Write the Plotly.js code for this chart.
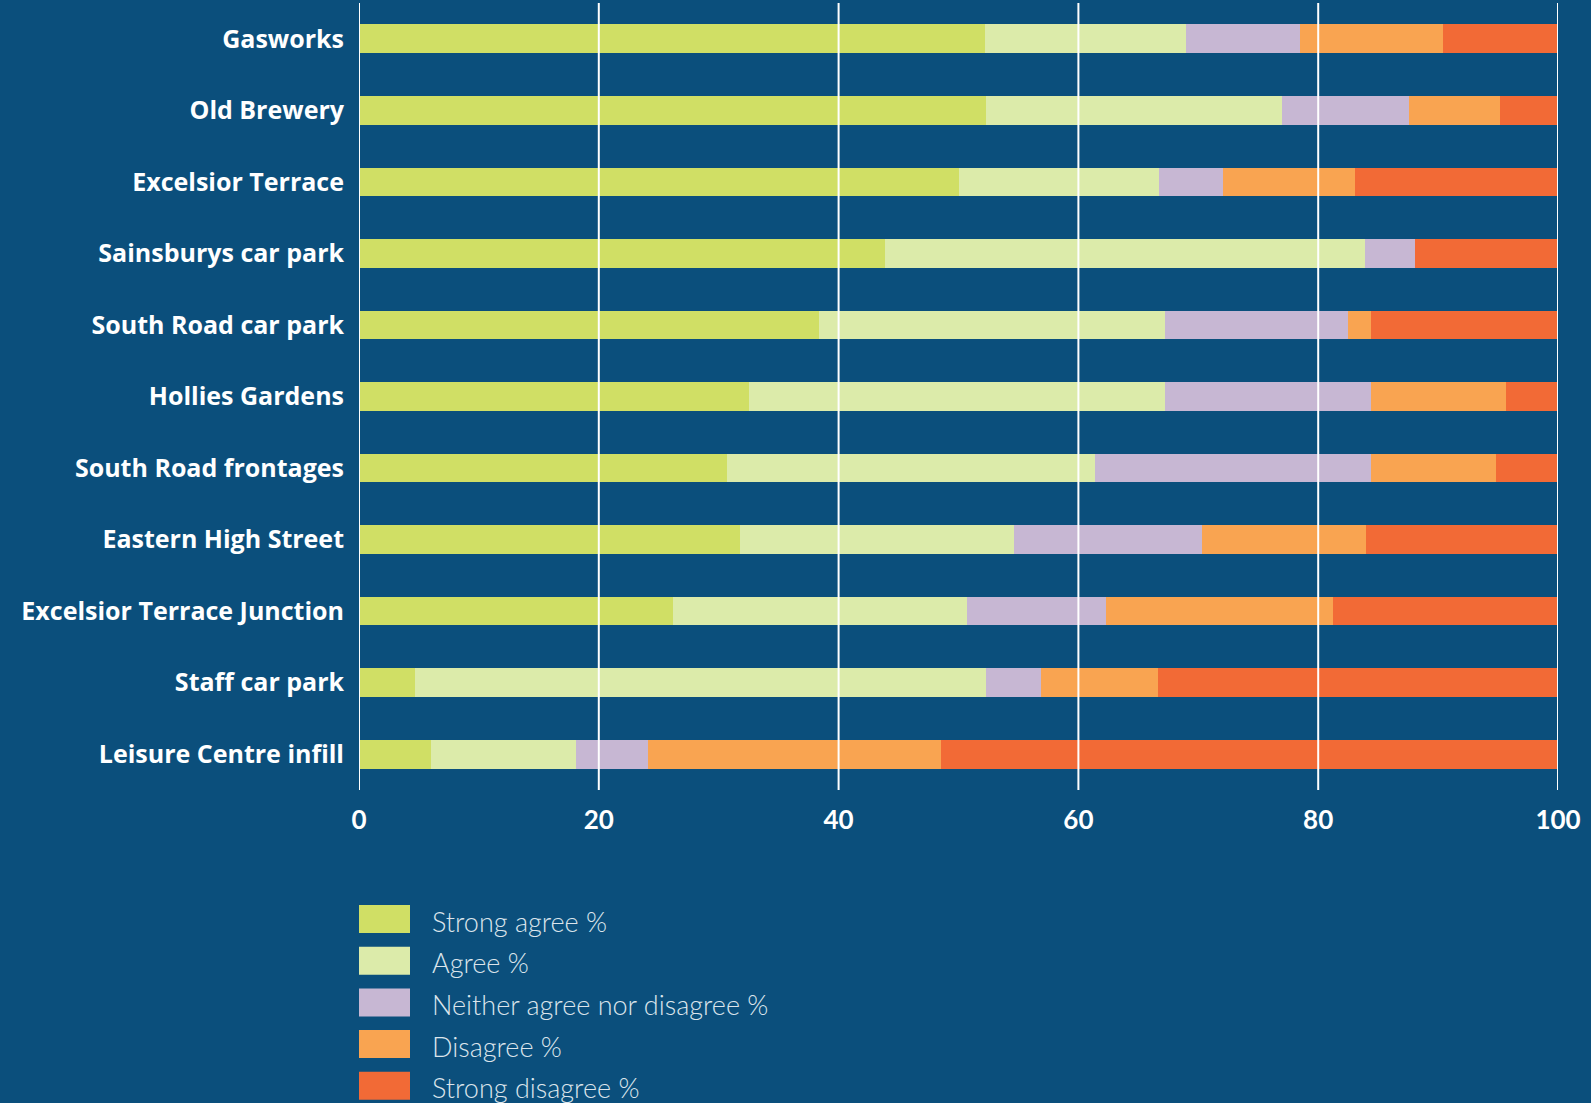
<!DOCTYPE html>
<html>
<head>
<meta charset="utf-8">
<script src="https://cdn.plot.ly/plotly-3.0.1.min.js"></script>
<style>html,body{margin:0;padding:0;background:#0B4F7C;}#chart{width:1591px;height:1103px;}</style>
</head>
<body>
<div id="chart"></div>
<script>
const categories = ["Gasworks","Old Brewery","Excelsior Terrace","Sainsburys car park","South Road car park","Hollies Gardens","South Road frontages","Eastern High Street","Excelsior Terrace Junction","Staff car park","Leisure Centre infill"];
const seriesNames = ["Strong agree %","Agree %","Neither agree nor disagree %","Disagree %","Strong disagree %"];
const strongAgree    = [52.2, 52.3, 50.0, 43.9, 38.4, 32.5, 30.7, 31.8, 26.2, 4.7, 6.0];
const agree          = [16.8, 24.7, 16.7, 40.0, 28.8, 34.7, 30.7, 22.8, 24.5, 47.6, 12.1];
const neither        = [9.5, 10.6, 5.4, 4.2, 15.3, 17.2, 23.0, 15.7, 11.6, 4.6, 6.0];
const disagree       = [11.9, 7.6, 11.0, 0, 1.9, 11.3, 10.4, 13.7, 18.9, 9.7, 24.4];
const strongDisagree = [9.6, 4.8, 16.9, 11.9, 15.6, 4.3, 5.2, 16.0, 18.8, 33.4, 51.5];
const xTicks = [0, 20, 40, 60, 80, 100];

const colors = ["#D0DF65","#DCEBAA","#C7B7D3","#F9A451","#F26A36"];
const values = [strongAgree, agree, neither, disagree, strongDisagree];
const BG = "#0B4F7C";

const traces = values.map((v, i) => ({
  type: "bar", orientation: "h", name: seriesNames[i],
  x: v, y: categories, marker: {color: colors[i], line: {width: 0}},
  hoverinfo: "x+name"
}));

// plot area in pixels
const L = 359, R = 1558, T = 3, B = 790;
const pyp = p => (B - p) / (B - T);
const pxp = p => (p - L) / (R - L);

const shapes = xTicks.map(t => ({
  type: "line", xref: "x", yref: "paper", x0: t, x1: t, y0: 0, y1: 1,
  line: {color: "#FFFFFF", width: 2}, layer: "above"
}));
const annotations = [];
seriesNames.forEach((n, i) => {
  const cy = 919 + i * 41.7;
  shapes.push({type: "rect", xref: "paper", yref: "paper",
    x0: pxp(359), x1: pxp(410), y0: pyp(cy - 14), y1: pyp(cy + 14),
    fillcolor: colors[i], line: {width: 0}});
  annotations.push({xref: "paper", yref: "paper", x: pxp(430), y: pyp(cy + 2),
    xanchor: "left", yanchor: "middle", text: n, showarrow: false,
    font: {family: "Lato", size: 27, color: "#DCE5EC", weight: 300}});
});

const layout = {
  width: 1591, height: 1103,
  paper_bgcolor: BG, plot_bgcolor: BG,
  margin: {l: L, r: 1591 - R, t: T, b: 1103 - B, pad: 0},
  barmode: "stack", bargap: 0.6,
  showlegend: false,
  xaxis: {range: [0, 100], tickvals: xTicks, ticktext: xTicks.map(String),
    showgrid: false, zeroline: false, showline: false, ticks: "",
    ticklabelstandoff: 12,
    tickfont: {family: "Lato", size: 26, color: "#FFFFFF", weight: 700}, fixedrange: true},
  yaxis: {autorange: "reversed", showgrid: false, zeroline: false, showline: false,
    ticks: "", ticklabelstandoff: 14,
    tickfont: {family: "Open Sans", size: 25, color: "#FFFFFF", weight: 700}, fixedrange: true},
  shapes: shapes, annotations: annotations,
  font: {family: "Lato", color: "#FFFFFF"}
};

Plotly.newPlot("chart", traces, layout, {displayModeBar: false, staticPlot: true});
</script>
</body>
</html>
